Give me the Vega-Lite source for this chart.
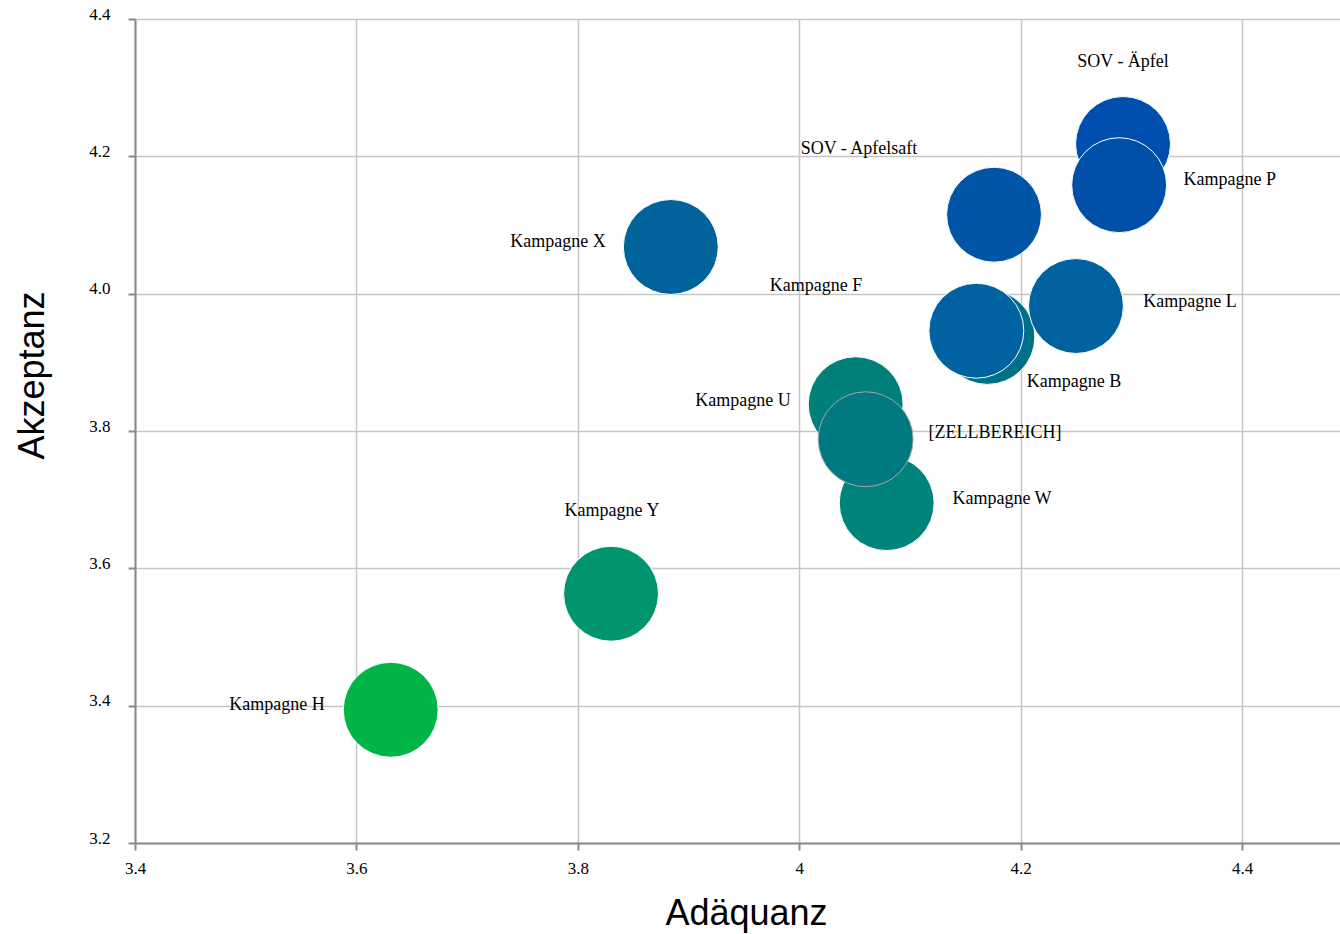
{
  "$schema": "https://vega.github.io/schema/vega-lite/v6.json",
  "width": 1205,
  "height": 824,
  "padding": {"left": 135, "top": 19, "right": 0, "bottom": 91},
  "autosize": {"type": "none"},
  "background": "white",
  "config": {"view": {"stroke": null}},
  "datasets": {
    "bubbles": [
      {"name": "Kampagne H", "adaequanz": 3.631, "akzeptanz": 3.394},
      {"name": "Kampagne Y", "adaequanz": 3.830, "akzeptanz": 3.563},
      {"name": "Kampagne X", "adaequanz": 3.884, "akzeptanz": 4.068},
      {"name": "Kampagne W", "adaequanz": 4.079, "akzeptanz": 3.695},
      {"name": "Kampagne U", "adaequanz": 4.051, "akzeptanz": 3.839},
      {"name": "[ZELLBEREICH]", "adaequanz": 4.060, "akzeptanz": 3.788},
      {"name": "Kampagne B", "adaequanz": 4.170, "akzeptanz": 3.937},
      {"name": "Kampagne F", "adaequanz": 4.160, "akzeptanz": 3.946},
      {"name": "Kampagne L", "adaequanz": 4.250, "akzeptanz": 3.982},
      {"name": "SOV - Apfelsaft", "adaequanz": 4.176, "akzeptanz": 4.115},
      {"name": "SOV - Äpfel", "adaequanz": 4.2925, "akzeptanz": 4.218},
      {"name": "Kampagne P", "adaequanz": 4.289, "akzeptanz": 4.158}
    ],
    "labels": [
      {"text": "SOV - Äpfel", "lx": 4.2925, "ly": 4.337},
      {"text": "Kampagne P", "lx": 4.389, "ly": 4.1655},
      {"text": "SOV - Apfelsaft", "lx": 4.054, "ly": 4.2106},
      {"text": "Kampagne X", "lx": 3.7821, "ly": 4.0752},
      {"text": "Kampagne F", "lx": 4.0152, "ly": 4.0111},
      {"text": "Kampagne L", "lx": 4.353, "ly": 3.9878},
      {"text": "Kampagne B", "lx": 4.2483, "ly": 3.8713},
      {"text": "Kampagne U", "lx": 3.9492, "ly": 3.8437},
      {"text": "[ZELLBEREICH]", "lx": 4.1769, "ly": 3.7971},
      {"text": "Kampagne W", "lx": 4.1832, "ly": 3.7009},
      {"text": "Kampagne Y", "lx": 3.8309, "ly": 3.6835},
      {"text": "Kampagne H", "lx": 3.5283, "ly": 3.401}
    ]
  },
  "layer": [
    {
      "data": {"name": "bubbles"},
      "mark": {"type": "point", "shape": "circle", "filled": true, "size": 9000, "opacity": 1, "strokeWidth": 1},
      "encoding": {
        "x": {
          "field": "adaequanz", "type": "quantitative",
          "scale": {"domain": [3.4, 4.4885], "nice": false, "zero": false},
          "axis": {
            "title": "Adäquanz",
            "values": [3.4, 3.6, 3.8, 4.0, 4.2, 4.4],
            "format": "~r",
            "labelFont": "Liberation Serif", "labelFontSize": 17, "labelColor": "#000000",
            "labelPadding": 10, "labelFlush": false,
            "domainColor": "#8a8a8a", "domainWidth": 2,
            "tickColor": "#8a8a8a", "tickWidth": 2, "tickSize": 7,
            "grid": true, "gridColor": "#c6c6c6", "gridWidth": 1.5,
            "titleFont": "Liberation Sans", "titleFontSize": 36, "titleFontWeight": "normal", "titleColor": "#000000",
            "titleX": 611, "titleY": 70, "titleAlign": "center", "titleBaseline": "middle"
          }
        },
        "y": {
          "field": "akzeptanz", "type": "quantitative",
          "scale": {"domain": [3.2, 4.4], "nice": false, "zero": false},
          "axis": {
            "title": "Akzeptanz",
            "values": [3.2, 3.4, 3.6, 3.8, 4.0, 4.2, 4.4],
            "format": ".1f",
            "labelFont": "Liberation Serif", "labelFontSize": 17, "labelColor": "#000000",
            "labelPadding": 18, "labelBaseline": "alphabetic", "labelFlush": false,
            "domainColor": "#8a8a8a", "domainWidth": 2,
            "tickColor": "#8a8a8a", "tickWidth": 2, "tickSize": 7,
            "grid": true, "gridColor": "#c6c6c6", "gridWidth": 1.5,
            "titleFont": "Liberation Sans", "titleFontSize": 36, "titleFontWeight": "normal", "titleColor": "#000000",
            "titleAngle": -90, "titleX": -103, "titleY": 356, "titleAlign": "center", "titleBaseline": "middle"
          }
        },
        "color": {
          "field": "name", "type": "nominal", "legend": null,
          "scale": {
            "domain": ["Kampagne H", "Kampagne Y", "Kampagne X", "Kampagne W", "Kampagne U", "[ZELLBEREICH]", "Kampagne B", "Kampagne F", "Kampagne L", "SOV - Apfelsaft", "SOV - Äpfel", "Kampagne P"],
            "range": ["#00b445", "#00956f", "#00649a", "#00847a", "#008079", "#007a80", "#007088", "#0062a0", "#00629e", "#0055a6", "#004fb0", "#0050aa"]
          }
        },
        "stroke": {
          "condition": {"test": "datum.name === '[ZELLBEREICH]'", "value": "#a6a6a6"},
          "value": "#ffffff"
        }
      }
    },
    {
      "data": {"name": "labels"},
      "mark": {"type": "text", "font": "Liberation Serif", "fontSize": 18, "color": "#000000", "align": "center", "baseline": "middle"},
      "encoding": {
        "x": {"field": "lx", "type": "quantitative"},
        "y": {"field": "ly", "type": "quantitative"},
        "text": {"field": "text"}
      }
    }
  ]
}
